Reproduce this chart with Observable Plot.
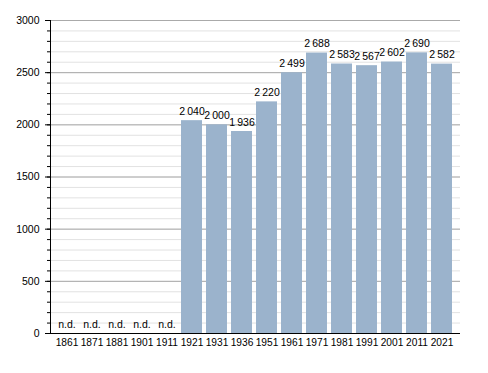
<!DOCTYPE html>
<html><head><meta charset="utf-8">
<script src="https://cdn.jsdelivr.net/npm/d3@7"></script>
<script src="https://cdn.jsdelivr.net/npm/@observablehq/plot@0.6"></script>
<style>body{margin:0;background:#fff;font-family:"Liberation Sans",Arial,sans-serif}</style>
</head><body><div id="chart"></div>
<script>
const years = ["1861","1871","1881","1901","1911","1921","1931","1936","1951","1961","1971","1981","1991","2001","2011","2021"];
const population = [null,null,null,null,null,2040,2000,1936,2220,2499,2688,2583,2567,2602,2690,2582];
const yMajorTicks = [0,500,1000,1500,2000,2500,3000];
const yMinorTicks = d3.range(0, 3001, 100);

const data = years.map((y,i)=>({year:y, value:population[i]}));
const fmt = v => v == null ? "n.d." : d3.format(",")(v).replace(/,/g, "\u2009");

const chart = Plot.plot({
  width: 488, height: 373,
  marginLeft: 50, marginRight: 28, marginTop: 20, marginBottom: 40,
  style: {fontFamily: "'Liberation Sans', Arial, sans-serif", fontSize: "10px", color: "#000", background: "#fff"},
  x: {domain: years, padding: 0.17, range: [45.8, 462.5], label: null},
  y: {domain: [0,3000], label: null},
  marks: [
    Plot.ruleY(yMinorTicks, {stroke: "#e2e2e2", strokeWidth: 1}),
    Plot.ruleY(yMajorTicks, {stroke: "#aaaaaa", strokeWidth: 1}),
    Plot.barY(data.filter(d=>d.value!=null), {x: "year", y: "value", fill: "#9bb3cc"}),
    Plot.text(data, {x: "year", y: d => d.value ?? 0, text: d => fmt(d.value), dy: -9, fontSize: 10.5, fill: "#000"}),
    Plot.ruleY([0], {stroke: "#000", strokeWidth: 1.2}),
    Plot.axisY({ticks: yMinorTicks, tickSize: 3, tickFormat: () => "", stroke: "#000"}),
    Plot.axisY({ticks: yMajorTicks, tickSize: 5, tickPadding: 6, tickFormat: d3.format("d"), fontSize: 10.5, stroke: "#000"}),
    Plot.axisX({tickSize: 0, tickPadding: 5, fontSize: 10.2}),
    Plot.frame({anchor: "left", stroke: "#000"})
  ]
});
document.getElementById("chart").appendChild(chart);
</script></body></html>
